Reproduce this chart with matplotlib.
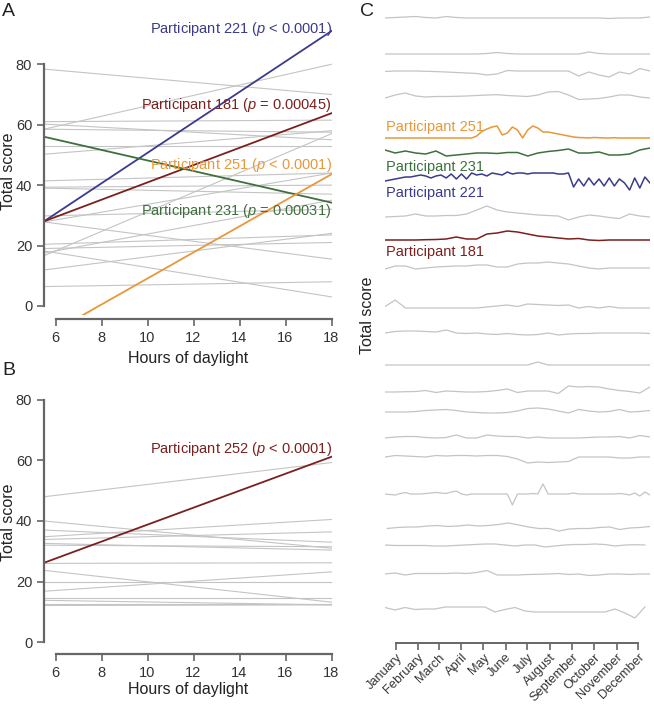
import numpy as np
import matplotlib
matplotlib.use("Agg")
import matplotlib.pyplot as plt

plt.rcParams['font.family'] = ['Liberation Sans', 'DejaVu Sans']
plt.rcParams['mathtext.fontset'] = 'custom'
plt.rcParams['mathtext.it'] = 'Liberation Sans:italic'
plt.rcParams['mathtext.rm'] = 'Liberation Sans'

# colours
BLUE = "#3a3a8e"
RED = "#7c1f1f"
ORANGE = "#e8983a"
GREEN = "#3f6f3f"
GREY = "#c4c4c4"
AXC = "#666666"

# ---- panel A : fitted lines (score at x=5.5 and at x=18) ----
x_ends = [5.5, 18.0]
a_grey_start = [78.4, 58.5, 61.0, 60.2, 58.5, 50.2, 53.0, 41.4, 39.3, 39.0, 29.8, 27.8, 27.8,
                20.4, 19.0, 18.2, 16.6, 17.5, 11.9, 6.4]
a_grey_end = [70.0, 80.0, 61.5, 55.0, 57.5, 58.0, 53.0, 44.0, 40.0, 37.0, 32.0, 15.5, 44.0,
              23.5, 21.0, 3.0, 57.0, 35.0, 24.0, 8.0]
a_221 = [28.0, 91.0]
a_181 = [28.0, 63.8]
a_231 = [56.0, 34.2]
a_251 = [-10.3, 43.6]

# ---- panel B ----
b_grey_start = [48.0, 40.0, 37.0, 34.8, 33.9, 32.6, 32.0, 26.0, 23.7, 16.8, 19.9, 14.6, 13.8, 12.7, 12.1]
b_grey_end = [59.3, 31.0, 33.0, 40.5, 36.4, 30.4, 31.5, 26.2, 13.2, 23.2, 19.9, 14.6, 12.3, 12.7, 12.3]
b_252 = [26.2, 61.2]

# ---- panel C : weekly / fortnightly total score deviations per participant ----
months = ["January", "February", "March", "April", "May", "June", "July", "August",
          "September", "October", "November", "December"]
month_mid = [15, 45, 74, 105, 135, 166, 196, 227, 258, 288, 319, 349]

c1 = [0, 0.5, 1, 1.5, 0.5, 0, 1.5, 0.5, 0, 0, 0, 0, 0, 0, 0, 0, 0, 0, 0, 0, 0, 0, -0.5, 0, 0, 0, 1]
c2 = [0, 0, 0, 0, 0, 0, 0, 0, 0, 0, 0.5, 1.5, 0.5, 0, 0, 0, 0, 0, 0, 0, 2, 0.5, 0, 0, 0, 0, 0]
c3 = [-0.5, 0, 0, 0, -0.3, -0.6, -1, -1.5, -2, -2.5, -4, -3, 0.5, 0, 0, 0, 0, 0, 0, -5, -1, -4, -6, -1, -3, 2.5, 0]
c4 = [-1, 2, 4, 1, 0, 0.5, 0.5, 0.7, 1, 1.5, 2, 2.3, 1.5, 1, 0.5, 2, 5, 5.5, 2, -2.5, -2, -1.5, 0, 2, 2, 0, -1]
c251 = [0, 0, 0, 0, 0, 0, 0, 0, 0, 0, 0, 0, 0, 0, 0, 0, 0, 0, 2, 6.5, 9, 11, 12, 3, 5, 11, 8, 0, 8, 12,
        10, 6, 6, 5, 4, 3, 2, 1, 0.5, 0.3, 0, 0.5, 0.3, 0, 0, 0.3, 0, 0, 0, 0, 0, 0, 0]
c231 = [3, 0, 2, 0, -1, 2, -3, -2, -1, 0, 0, -0.5, 0.5, 0.5, -3, 0, 1.5, 2.5, 4, 0, 0, 1, -2, -2, -1, 3, 5]
c221 = [-8, -7, -6, -5, -4, -4, -3, -2, -3, -5, -3, -2, -5, -1, -6, -1, -6, 0, -2, -1, -3, 0, -1, -2,
        1, -1, 0, 0, -1, 0, 0, 0, 0, 0, -1, -1, 0, -14, -6, -13, -5, -12, -6, -13, -5, -13, -6, -10,
        -17, -5, -15, -4, -10]
c8 = [0, 0.5, 1, 3, 1, 1, 1.5, 1.5, 3, 7, 11, 7, 5, 4, 3, 2, 1.5, 1, -3, 0, 2, 1, -0.5, -1.5, 3, 1, 0]
c181 = [0, 0, 0, 0, 0.3, 0.5, 1, 3, 1, 1, 6, 7, 9, 8, 6, 4, 3, 2, 1, 1.5, 0, -0.5, 0, 0, 0, 0, 0]
c10 = [-1, 2, 2, -1, 0, 1, 1.5, 2, 2, 3, 3, 1, 1, 4, 5, 5, 6, 5, 4, 2, 0, -1, 0, 0, 0, 0, 0]
c11 = [1.5, 8, 0, 0, 0, 0, 0, 0, 0, 0, 1, 2, 3, 1.5, 4, 3.5, 3, 2.5, 3, 0, 1.5, 0, 1.5, 0, 0, 0, 0]
c12 = [0, 1.5, 2, 2, 1.5, 1, 3, 0, -0.5, 0, -1, -1.5, -0.5, -1.5, -2, -1.5, 0, -2, -1, -0.5, -0.5,
       0, 0, 0, 0, 0, -0.5]
c13 = [0, 0, 0, 0, 0, 0, 0, 0, 0, 0, 0, 0, 0, 0, 0, 3, 0, 0, 0, 0, 0, 0, 0, 0, 0, 0, 0]
c14 = [0, 0, 0.3, 0.5, 1.5, -0.5, 1, 0.5, 0, 0, 0.5, 1.5, 3, -0.5, 1, 1, 1, -1.5, 6, 5, 5.5, 5, 3,
       1.5, 0.5, -1, 5]
c15 = [0, 0, 0, 0.5, 1.5, 2, 2.5, 1.5, 0, -0.5, -1, -1, -0.5, 1, 3.5, 4, 3, 1, -1, 2.5, 1, 0, 0.5,
       2.5, 0, 0.5, 1.5]
c16 = [0, 1, 1.5, 1.5, 0.5, 0, 0.5, 3, 0, 0, 3, 2, 1.5, 1.5, 0, 1, 0, 0, 0, 0, 0.5, 1, 1, 1.5, 0, 2.5, 1]
c17 = [0, 1.5, 1, 0.5, 0, 1.5, 1, 1.5, 1.5, 1, 1.5, 1.5, 0.5, -2, -6, -5, -5.5, -5, -4.5, 0, 0, 0,
       0, -1, -1, 0, 0]
c18 = [0, -0.5, -1, 0.5, 1.5, 0, 0, 0, 0.5, 1, 1.5, 1, 0.5, 2, 3, 0, -1, 0, 0, 0, 0, 0, 0, 0, 0,
       -11, 0, 0, 0, 0.5, 0, 10, 0, 0, 0, 0, 0, 1, 0, 0, 0, 0, 0, 0, 0, 0, 0.5, 0, -1, 1, -2, 2, -1]
c19 = [-0.5, 0.5, 1, 1, 2, 2.5, 1.5, 2, 3, 2, 2.5, 3.5, 5, 3, 1, -0.5, -0.5, -3, -1, -0.5, -0.5, 0.5,
       1, -1.5, 0, 0.5, 1.5]
c20 = [0, -0.5, -0.5, -0.5, -0.5, -1, -1, -0.5, 0, 0.5, 1, 1, 0, -1, 0, 0, -2, -1, 0, 0.5, 0.5, 1,
       0.5, -1, 0, 0.3, 0]
c21 = [0, 1, -1, 0.5, 0.5, 0.5, 0.5, 1, 0.5, 1.5, 3.5, -1, -1, -1, -0.5, -0.3, 0, 0.5, -0.5, 0, -1.5,
       -1, 0, 0, -0.5, 0, 0]
c22 = [-0.5, -3, -0.5, -2.5, -2, -2, 0, 0, 0, 0, 0, -5, -2.5, -0.5, -4, -5, -5, -5, -5, -5, -5, -5,
       -5, -2, -6, -11, 0]

c_series = [c1, c2, c3, c4, c251, c231, c221, c8, c181, c10, c11, c12, c13, c14, c15, c16, c17,
            c18, c19, c20, c21, c22]
c_colors = [GREY, GREY, GREY, GREY, ORANGE, GREEN, BLUE, GREY, RED] + [GREY] * 13
c_start = [0] * 18 + [3, 0, 0, 0]
c_end = [365] * 19 + [358, 365, 358]
# vertical stacking (pixel rows from top of panel)
c_rows = [18, 54, 71, 97, 138, 153, 173, 217, 240, 268, 308, 333, 365, 392, 412, 438, 457, 494,
          528, 545, 574, 607]

W, H = 654, 704
fig = plt.figure(figsize=(W / 100, H / 100), dpi=100)


def rect(l, t, r, b):
    return [l / W, 1 - b / H, (r - l) / W, (b - t) / H]


def style_line_axes(ax, ymax, ybot, ax_h, xlab_top):
    ax.set_xlim(5.5, 18.0)
    ax.set_ylim(ybot, ymax)
    for s in ["top", "right"]:
        ax.spines[s].set_visible(False)
    ax.spines["left"].set_bounds(0, 80)
    ax.spines["bottom"].set_bounds(6, 18)
    ax.spines["bottom"].set_position(("outward", 3))
    for s in ["left", "bottom"]:
        ax.spines[s].set_color(AXC)
        ax.spines[s].set_linewidth(1.6)
    ax.set_xticks([6, 8, 10, 12, 14, 16, 18])
    ax.set_yticks([0, 20, 40, 60, 80])
    ax.tick_params(colors=AXC, labelcolor="#333333", labelsize=10.5, length=5, width=1.2)
    ax.set_xlabel("Hours of daylight", fontsize=11.5, color="#222222")
    ax.set_ylabel("Total score", fontsize=11.5, color="#222222")
    ax.yaxis.set_label_coords(-28 / 287.5, 0.5)
    ax.xaxis.set_label_coords(0.5, -xlab_top / ax_h)
    ax.patch.set_alpha(0)


# Panel A
axA = fig.add_axes(rect(44, 28, 331.5, 315))
for s, e in zip(a_grey_start, a_grey_end):
    axA.plot(x_ends, [s, e], color=GREY, lw=0.8)
axA.plot(x_ends, a_221, color=BLUE, lw=1.3)
axA.plot(x_ends, a_181, color=RED, lw=1.3)
axA.plot(x_ends, a_231, color=GREEN, lw=1.3)
axA.plot(x_ends, a_251, color=ORANGE, lw=1.3)
style_line_axes(axA, 92, -3, 287, 36)
axA.text(18.0, 91.6, r"Participant 221 ($p$ < 0.0001)", color=BLUE, fontsize=10.5, ha="right", va="center", clip_on=False)
axA.text(18.0, 66.4, r"Participant 181 ($p$ = 0.00045)", color=RED, fontsize=10.5, ha="right", va="center")
axA.text(18.0, 46.6, r"Participant 251 ($p$ < 0.0001)", color=ORANGE, fontsize=10.5, ha="right", va="center")
axA.text(18.0, 31.4, r"Participant 231 ($p$ = 0.00031)", color=GREEN, fontsize=10.5, ha="right", va="center")

# Panel B
axB = fig.add_axes(rect(44, 395, 331.5, 650))
for s, e in zip(b_grey_start, b_grey_end):
    axB.plot(x_ends, [s, e], color=GREY, lw=0.8)
axB.plot(x_ends, b_252, color=RED, lw=1.3)
style_line_axes(axB, 81.6, -2.6, 255, 32)
axB.text(18.0, 63.8, r"Participant 252 ($p$ < 0.0001)", color=RED, fontsize=10.5, ha="right", va="center")

# Panel C
axC = fig.add_axes(rect(385, 5, 650, 643))
axC.set_xlim(0, 365)
axC.set_ylim(0, 638)
for vals, col, row, x0, x1 in zip(c_series, c_colors, c_rows, c_start, c_end):
    xs = np.linspace(x0, x1, len(vals))
    axC.plot(xs, (643 - row) + np.array(vals), color=col, lw=1.1 if col != GREY else 0.9)
for s in ["top", "right", "left"]:
    axC.spines[s].set_visible(False)
axC.spines["bottom"].set_bounds(month_mid[0], month_mid[-1])
axC.spines["bottom"].set_color(AXC)
axC.spines["bottom"].set_linewidth(1.4)
axC.set_yticks([])
axC.set_xticks(month_mid)
axC.set_xticklabels(months, rotation=45, ha="right", rotation_mode="anchor")
axC.tick_params(axis="x", colors=AXC, labelcolor="#333333", labelsize=9.2, length=5, width=1.2, pad=1)
axC.patch.set_alpha(0)
axC.text(1, 643 - 127, "Participant 251", color=ORANGE, fontsize=10.5, va="center")
axC.text(1, 643 - 167, "Participant 231", color=GREEN, fontsize=10.5, va="center")
axC.text(1, 643 - 193, "Participant 221", color=BLUE, fontsize=10.5, va="center")
axC.text(1, 643 - 252, "Participant 181", color=RED, fontsize=10.5, va="center")
fig.text(368 / W, 1 - 315 / H, "Total score", rotation=90, fontsize=11.5, color="#222222", ha="center", va="center")

# panel letters
fig.text(2 / W, 1 - 3 / H, "A", fontsize=14, color="#222222", va="top")
fig.text(2 / W, 1 - 362 / H, "B", fontsize=14, color="#222222", va="top")
fig.text(360 / W, 1 - 3 / H, "C", fontsize=14, color="#222222", va="top")

fig.savefig("out.png", dpi=100)
